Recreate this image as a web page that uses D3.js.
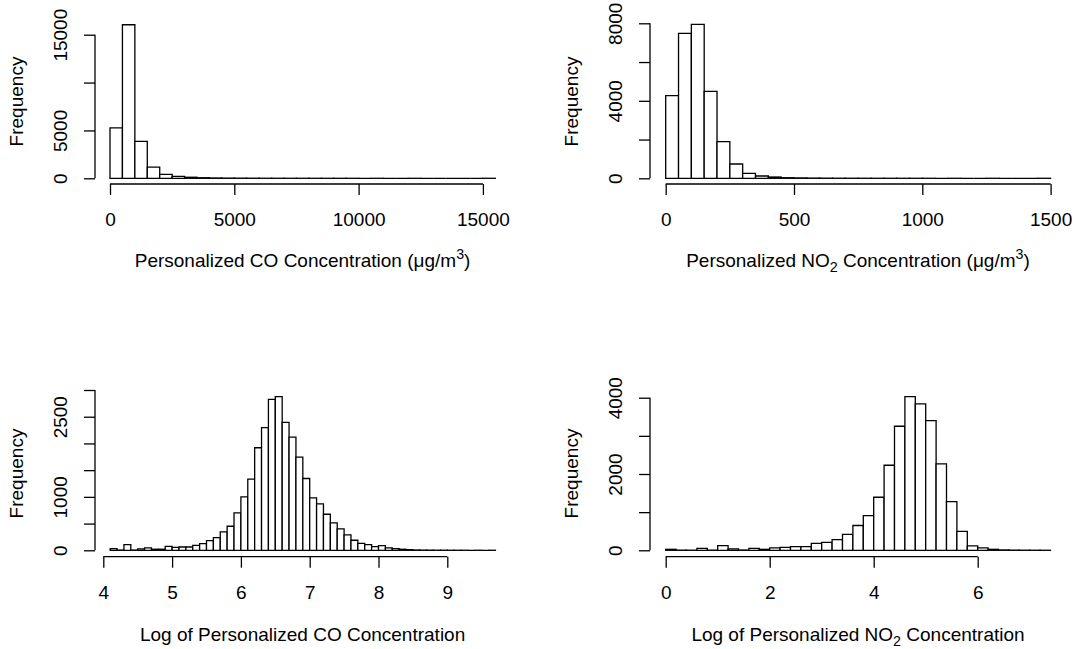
<!DOCTYPE html>
<html>
<head>
<meta charset="utf-8">
<script src="https://cdn.jsdelivr.net/npm/d3@7"></script>
<style>
  body { margin: 0; background: #fff; }
  svg { display: block; }
  text { font-family: "Liberation Sans", Arial, Helvetica, sans-serif; fill: #000; }
  .bar { fill: #fff; stroke: #000; stroke-width: 1.3; }
  .axis line, .axisline { stroke: #000; stroke-width: 1.3; }
</style>
</head>
<body>
<div id="chart"></div>
<script>
// Histogram counts, one value per bin
var coCounts = [5270, 16040, 3850, 1170, 420, 200, 110, 60, 35, 20, 15, 10, 6, 4, 3, 2,
                2, 1, 1, 1, 0, 1, 0, 0, 1, 0, 0, 0, 0, 0, 1];
var coBins = {start: 0, width: 500};

var no2Counts = [4263, 7484, 7948, 4490, 1890, 738, 258, 119, 67, 30, 20, 12, 8, 5, 4,
                 3, 2, 2, 1, 1, 1, 0, 1, 0, 0, 1, 0, 0, 0, 1];
var no2Bins = {start: 0, width: 50};

var logCoCounts = [31, 5, 106, 5, 25, 44, 20, 20, 75, 56, 62, 62, 94, 125, 181, 237,
                   344, 450, 700, 1000, 1331, 1919, 2294, 2825, 2875, 2394, 2119, 1744,
                   1344, 981, 869, 675, 513, 400, 288, 188, 131, 106, 69, 88, 44, 31, 20,
                   12, 6, 4, 3, 2, 2, 1, 1, 1, 0, 1, 0, 1];
var logCoBins = {start: 4.1, width: 0.1};

var logNo2Counts = [26, 5, 3, 52, 5, 122, 35, 8, 52, 26, 61, 79, 96, 96, 184, 210, 280,
                    420, 650, 909, 1390, 2229, 3251, 4029, 3837, 3400, 2264, 1276, 498,
                    114, 61, 26, 10, 5, 3, 2, 1];
var logNo2Bins = {start: 0, width: 0.2};

// tick values and which of them carry a label
var coXTicks = [0, 5000, 10000, 15000];
var coYTicks = [0, 5000, 10000, 15000];
var coYLabels = [0, 5000, 15000];

var no2XTicks = [0, 500, 1000, 1500];
var no2YTicks = [0, 2000, 4000, 6000, 8000];
var no2YLabels = [0, 4000, 8000];

var logCoXTicks = [4, 5, 6, 7, 8, 9];
var logCoYTicks = [0, 500, 1000, 1500, 2000, 2500, 3000];
var logCoYLabels = [0, 1000, 2500];

var logNo2XTicks = [0, 2, 4, 6];
var logNo2YTicks = [0, 1000, 2000, 3000, 4000];
var logNo2YLabels = [0, 2000, 4000];

var width = 1076, height = 649;
var fontSize = 19;

var svg = d3.select("#chart").append("svg")
    .attr("width", width)
    .attr("height", height);

function drawHist(p) {
    var x = d3.scaleLinear().domain(p.xDomain).range(p.xRange);
    var y = d3.scaleLinear().domain(p.yDomain).range(p.yRange);
    var g = svg.append("g");

    // bars: paths so that empty bins still show as a line on the baseline
    g.selectAll("path.bar")
        .data(p.counts)
        .enter().append("path")
        .attr("class", "bar")
        .attr("d", function(d, i) {
            var x0 = x(p.bins.start + i * p.bins.width),
                x1 = x(p.bins.start + (i + 1) * p.bins.width);
            return "M" + x0 + "," + y(0) + "V" + y(d) + "H" + x1 + "V" + y(0) + "Z";
        });

    // y axis
    var yAxis = g.append("g")
        .attr("class", "axis")
        .attr("transform", "translate(" + p.yAxisX + ",0)")
        .call(d3.axisLeft(y).tickValues(p.yTicks).tickSize(11).tickSizeOuter(0)
            .tickFormat(function(d) { return p.yLabels.indexOf(d) >= 0 ? d : ""; }));
    yAxis.select(".domain").remove();
    yAxis.selectAll("text")
        .attr("x", null).attr("dy", null)
        .attr("transform", "translate(-28,0) rotate(-90)")
        .style("text-anchor", "middle")
        .style("font-size", fontSize + "px");
    g.append("line").attr("class", "axisline")
        .attr("x1", p.yAxisX).attr("x2", p.yAxisX)
        .attr("y1", y(p.yTicks[0])).attr("y2", y(p.yTicks[p.yTicks.length - 1]));

    // x axis
    var xAxis = g.append("g")
        .attr("class", "axis")
        .attr("transform", "translate(0," + p.xAxisY + ")")
        .call(d3.axisBottom(x).tickValues(p.xTicks).tickSize(11).tickSizeOuter(0)
            .tickFormat(function(d) { return d; }));
    xAxis.select(".domain").remove();
    xAxis.selectAll("text")
        .attr("y", 42).attr("dy", null)
        .style("font-size", fontSize + "px");
    g.append("line").attr("class", "axisline")
        .attr("y1", p.xAxisY).attr("y2", p.xAxisY)
        .attr("x1", x(p.xTicks[0])).attr("x2", x(p.xTicks[p.xTicks.length - 1]));
    g.selectAll(".axis .tick line").style("stroke-width", 1.3);

    // y title
    g.append("text")
        .attr("transform", "translate(" + (p.yAxisX - 72) + "," + p.yTitleY + ") rotate(-90)")
        .style("text-anchor", "middle")
        .style("font-size", fontSize + "px")
        .text("Frequency");

    // x title with sub/superscripts
    var t = g.append("text")
        .attr("x", p.xTitleX)
        .attr("y", p.xAxisY + p.xTitleDy)
        .style("text-anchor", "middle")
        .style("font-size", fontSize + "px");
    p.title.forEach(function(part) {
        var s = t.append("tspan").text(part.text);
        if (part.sub) s.attr("dy", 5).style("font-size", (fontSize * 0.75) + "px");
        if (part.sup) s.attr("dy", -8).style("font-size", (fontSize * 0.75) + "px");
        if (part.back) s.attr("dy", part.back);
    });
}

drawHist({
    counts: coCounts, bins: coBins,
    xDomain: [0, 15000], xRange: [110, 482.9],
    yDomain: [0, 15000], yRange: [178.3, 34.7],
    xTicks: coXTicks, yTicks: coYTicks, yLabels: coYLabels,
    yAxisX: 95, xAxisY: 184, yTitleY: 101.5, xTitleX: 302.6, xTitleDy: 83,
    title: [{text: "Personalized CO Concentration (\u03bcg/m"}, {text: "3", sup: true}, {text: ")", back: 8}]
});

drawHist({
    counts: no2Counts, bins: no2Bins,
    xDomain: [0, 1500], xRange: [665.7, 1050.6],
    yDomain: [0, 8000], yRange: [178.3, 23.3],
    xTicks: no2XTicks, yTicks: no2YTicks, yLabels: no2YLabels,
    yAxisX: 650, xAxisY: 184, yTitleY: 101.5, xTitleX: 858, xTitleDy: 83,
    title: [{text: "Personalized NO"}, {text: "2", sub: true}, {text: " Concentration (\u03bcg/m", back: -5},
            {text: "3", sup: true}, {text: ")", back: 8}]
});

drawHist({
    counts: logCoCounts, bins: logCoBins,
    xDomain: [4, 9], xRange: [103.3, 447.3],
    yDomain: [0, 3000], yRange: [550.3, 390],
    xTicks: logCoXTicks, yTicks: logCoYTicks, yLabels: logCoYLabels,
    yAxisX: 95, xAxisY: 556.7, yTitleY: 473.5, xTitleX: 302.6, xTitleDy: 84,
    title: [{text: "Log of Personalized CO Concentration"}]
});

drawHist({
    counts: logNo2Counts, bins: logNo2Bins,
    xDomain: [0, 6], xRange: [665.7, 977.7],
    yDomain: [0, 4000], yRange: [550.3, 397.7],
    xTicks: logNo2XTicks, yTicks: logNo2YTicks, yLabels: logNo2YLabels,
    yAxisX: 650, xAxisY: 556.7, yTitleY: 473.5, xTitleX: 858, xTitleDy: 84,
    title: [{text: "Log of Personalized NO"}, {text: "2", sub: true}, {text: " Concentration", back: -5}]
});
</script>
</body>
</html>
